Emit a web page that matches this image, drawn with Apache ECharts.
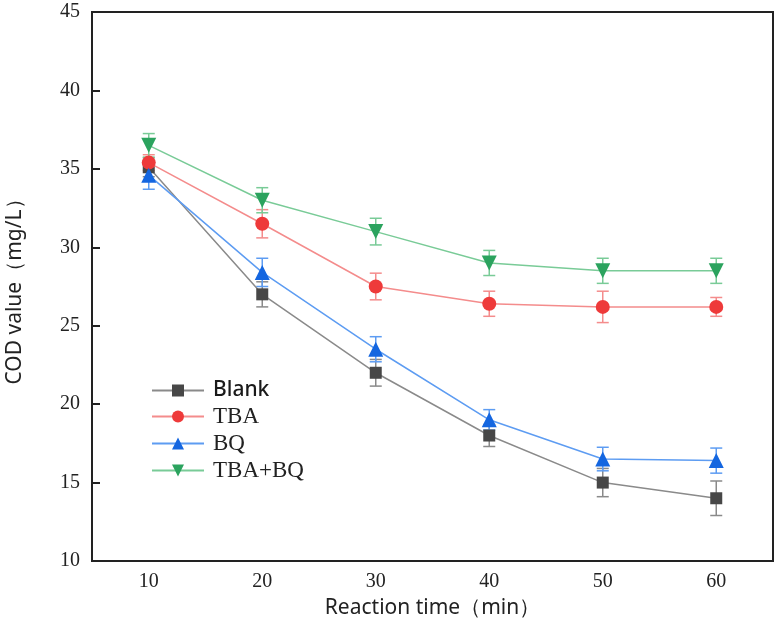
<!DOCTYPE html>
<html>
<head>
<meta charset="utf-8">
<script src="https://cdn.jsdelivr.net/npm/echarts@6/dist/echarts.min.js"></script>
<style>
html,body{margin:0;padding:0;background:#fff;}
#chart{width:778px;height:635px;}
</style>
</head>
<body>
<div id="chart"></div>
<script>
// ---- data ----
var times = ['10', '20', '30', '40', '50', '60'];
var yTicks = [10, 15, 20, 25, 30, 35, 40, 45];
var blank = [35.1, 27.0, 22.0, 18.0, 15.0, 14.0];
var blankErr = [0.6, 0.8, 0.85, 0.7, 0.9, 1.1];
var tba = [35.4, 31.5, 27.5, 26.4, 26.2, 26.2];
var tbaErr = [0.5, 0.9, 0.85, 0.8, 1.0, 0.6];
var bq = [34.6, 28.4, 23.5, 19.0, 16.5, 16.4];
var bqErr = [0.9, 0.9, 0.8, 0.65, 0.75, 0.8];
var tbabq = [36.5, 33.0, 31.0, 29.0, 28.5, 28.5];
var tbabqErr = [0.75, 0.8, 0.85, 0.8, 0.8, 0.8];
var seriesNames = ['Blank', 'TBA', 'BQ', 'TBA+BQ'];

var chart = echarts.init(document.getElementById('chart'));

var defs = [
  {name: 'Blank', vals: blank, err: blankErr, marker: '#474747', line: '#8a8a8a', symbol: 'rect', size: 12},
  {name: 'TBA', vals: tba, err: tbaErr, marker: '#ee3a3a', line: '#f48c8c', symbol: 'circle', size: 14},
  {name: 'BQ', vals: bq, err: bqErr, marker: '#1466e0', line: '#5d9cf2', symbol: 'triangle', size: 15},
  {name: 'TBA+BQ', vals: tbabq, err: tbabqErr, marker: '#2ba35e', line: '#79cb97', symbol: 'path://M0,0 L10,0 L5,9 Z', size: 15}
];

var series = [];
defs.forEach(function (d, k) {
  var errData = d.vals.map(function (v, i) { return [i, v, d.err[i]]; });
  series.push({
    type: 'custom',
    name: d.name + '_err',
    z: 1 + k,
    silent: true,
    data: errData,
    renderItem: function (params, api) {
      var x = api.value(0), y = api.value(1), e = api.value(2);
      var top = api.coord([x, y + e]);
      var bot = api.coord([x, y - e]);
      var hw = 6;
      var st = {stroke: d.line, lineWidth: 1.5};
      return {
        type: 'group',
        children: [
          {type: 'line', shape: {x1: top[0], y1: top[1], x2: bot[0], y2: bot[1]}, style: st},
          {type: 'line', shape: {x1: top[0] - hw, y1: top[1], x2: top[0] + hw, y2: top[1]}, style: st},
          {type: 'line', shape: {x1: bot[0] - hw, y1: bot[1], x2: bot[0] + hw, y2: bot[1]}, style: st}
        ]
      };
    }
  });
});
defs.forEach(function (d, k) {
  series.push({
    type: 'line',
    name: d.name,
    z: 10 + k,
    data: d.vals,
    symbol: d.symbol,
    symbolSize: d.size,
    showAllSymbol: true,
    lineStyle: {color: d.line, width: 1.5},
    itemStyle: {color: d.marker, opacity: 1},
    emphasis: {disabled: true}
  });
});

var option = {
  animation: false,
  backgroundColor: '#fff',
  grid: {left: 92, right: 5, top: 12, bottom: 74, containLabel: false, outerBoundsMode: 'none', show: true, borderColor: '#222', borderWidth: 2, backgroundColor: 'transparent'},
  legend: {
    data: seriesNames,
    orient: 'vertical',
    left: 146,
    top: 375,
    itemWidth: 52,
    itemHeight: 15,
    itemGap: 4,
    textStyle: {
      fontSize: 21,
      color: '#222',
      padding: [0, 0, 0, 4],
      rich: {
        s: {fontFamily: '"Noto Sans", "Open Sans", sans-serif', fontSize: 21, fontWeight: 500, color: '#1a1a1a', height: 23},
        t: {fontFamily: '"Liberation Serif", "DejaVu Serif", serif', fontSize: 23, color: '#222', height: 23}
      }
    },
    formatter: function (name) {
      return name === 'Blank' ? '{s|' + name + '}' : '{t|' + name + '}';
    }
  },
  xAxis: {
    type: 'category',
    data: times,
    boundaryGap: true,
    name: 'Reaction time（min）',
    nameLocation: 'middle',
    nameGap: 37,
    nameTextStyle: {fontFamily: '"Noto Sans", "Open Sans", sans-serif', fontSize: 21, color: '#222'},
    axisLine: {lineStyle: {color: '#222', width: 2}},
    axisTick: {alignWithLabel: true, inside: true, length: 8, lineStyle: {color: '#222', width: 2}},
    axisLabel: {fontFamily: '"Liberation Serif", serif', fontSize: 20, color: '#222', margin: 11},
    splitLine: {show: false}
  },
  yAxis: {
    type: 'value',
    min: 10,
    max: 45,
    interval: 5,
    name: 'COD value（mg/L）',
    nameLocation: 'middle',
    nameGap: 66,
    nameTextStyle: {fontFamily: '"Noto Sans", "Open Sans", sans-serif', fontSize: 21, color: '#222'},
    axisLine: {show: true, lineStyle: {color: '#222', width: 2}},
    axisTick: {show: true, inside: true, length: 8, lineStyle: {color: '#222', width: 2}},
    axisLabel: {fontFamily: '"Liberation Serif", serif', fontSize: 20, color: '#222', margin: 12},
    splitLine: {show: false}
  },
  series: series
};
chart.setOption(option);
</script>
</body>
</html>
